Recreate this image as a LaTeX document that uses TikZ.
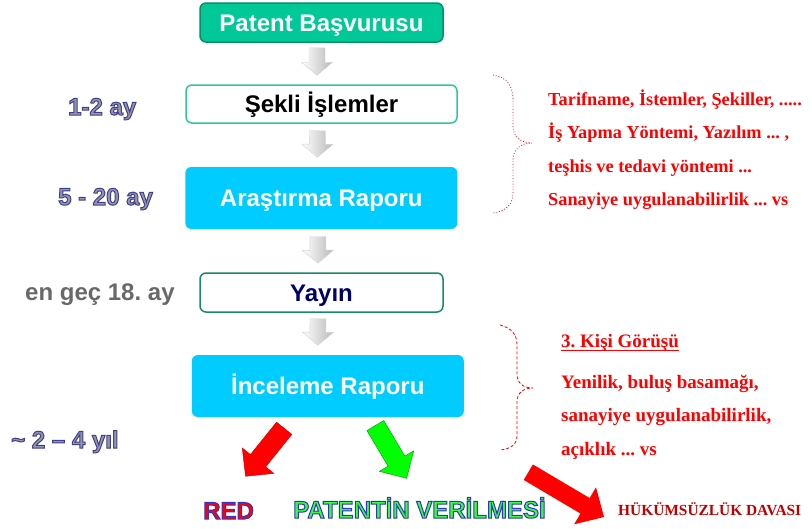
\documentclass[tikz,border=0pt]{standalone}
\usepackage{fontspec}
\setmainfont{Liberation Sans}
\newfontfamily\sansf{Liberation Sans}
\newfontfamily\seriff{Liberation Serif}
\usetikzlibrary{calc}
\frenchspacing
\definecolor{pgreen}{RGB}{0,200,150}
\definecolor{pgreendk}{RGB}{0,145,105}
\definecolor{sgreen}{RGB}{46,200,156}
\definecolor{ygreen}{RGB}{23,138,108}
\definecolor{pcyan}{RGB}{0,204,255}
\definecolor{ynavy}{RGB}{0,0,102}
\definecolor{lgray}{RGB}{105,105,105}
\definecolor{hred}{RGB}{192,0,0}
\definecolor{agreen}{RGB}{0,255,0}
% outlined text: fill rgb, stroke rgb, text
\newcommand\outl[3]{\special{pdf:bcolor [#1] [#2]}\special{pdf:literal direct q 2 Tr 1.0 w}#3\special{pdf:literal direct 0 Tr Q}\special{pdf:ecolor}}
% fat arrow: style, tail, tip, half shaft, half head, head length
\newcommand\fatarrow[6]{%
  \coordinate (fab) at ($(#3)!#6!(#2)$);
  \path[#1] ($(#2)!#4!90:(#3)$) -- ($(fab)!#4!90:(#3)$) -- ($(fab)!#5!90:(#3)$) -- (#3)
    -- ($(fab)!#5!-90:(#3)$) -- ($(fab)!#4!-90:(#3)$) -- ($(#2)!#4!-90:(#3)$) -- cycle;}
\tikzset{
  box/.style={rounded corners=6pt, line width=1.5pt, inner sep=0pt,
    text height=17.2pt, text depth=0pt,
    font=\sansf\bfseries\fontsize{24}{28}\selectfont},
  lbl/.style={anchor=base west, inner sep=0pt, font=\sansf\bfseries\fontsize{24}{28}\selectfont},
  rtxt/.style={anchor=base west, inner sep=0pt, text=red, font=\seriff\bfseries\fontsize{18.3}{22}\selectfont},
  rtxtb/.style={anchor=base west, inner sep=0pt, text=red, font=\seriff\bfseries\fontsize{19}{22}\selectfont},
  grayarr/.style={left color=white, right color=gray!55, draw=gray!35, line width=0.4pt},
  redarr/.style={fill=red, draw=red!80!black, line width=0.4pt},
  greenarr/.style={fill=agreen, draw=green!60!black, line width=0.4pt},
  bigarr/.style={fill=red},
  brace/.style={red, line width=0.8pt}
}
\begin{document}
\begin{tikzpicture}[x=1pt, y=-1pt]
\useasboundingbox (0,0) rectangle (812,528);
\fill[white] (0,0) rectangle (812,528);

% boxes
\node[box, fill=pgreen, draw=pgreendk, text=white, minimum width=243pt, minimum height=39pt] (pb) at (321.5,22.5) {Patent Başvurusu};
\node[box, fill=white, draw=sgreen, text=black, minimum width=271pt, minimum height=38pt] (sk) at (321.5,104) {Şekli İşlemler};
\node[box, fill=pcyan, draw=none, text=white, minimum width=272pt, minimum height=62pt] (ar) at (321.3,198) {Araştırma Raporu};
\node[box, fill=white, draw=ygreen, text=ynavy, minimum width=243pt, minimum height=39pt] (ya) at (321.5,292.5) {Yayın};
\node[box, fill=pcyan, draw=none, text=white, minimum width=272pt, minimum height=62pt] (ir) at (327.8,386) {İnceleme Raporu};

% gray down arrows
\coordinate (g1a) at ($(pb.south)+(-4.5,5)$);
\coordinate (g1b) at ($(sk.north)+(-4.5,-9)$);
\coordinate (g2a) at ($(sk.south)+(-4,7)$);
\coordinate (g2b) at ($(ar.north)+(-4,-9)$);
\coordinate (g3a) at ($(ar.south)+(-3.5,7)$);
\coordinate (g3b) at ($(ya.north)+(-3.5,-9)$);
\coordinate (g4a) at ($(ya.south)+(-3.5,6)$);
\coordinate (g4b) at ($(ir.north)+(-10,-9)$);
\fatarrow{grayarr}{g1a}{g1b}{8pt}{15.5pt}{13pt}
\fatarrow{grayarr}{g2a}{g2b}{8pt}{15.5pt}{13pt}
\fatarrow{grayarr}{g3a}{g3b}{8pt}{15.5pt}{13pt}
\fatarrow{grayarr}{g4a}{g4b}{8pt}{15.5pt}{13pt}

% left labels
\node[lbl] (l1) at (68,115) {\outl{0.58 0.58 0.68}{0.25 0.25 0.55}{1-2 ay}};
\node[lbl] (l2) at (58,205) {\outl{0.58 0.58 0.68}{0.25 0.25 0.55}{5 - 20 ay}};
\node[lbl, text=lgray] (l3) at (25,300) {en geç 18. ay};
\node[lbl] (l4) at (11,448) {\outl{0.58 0.58 0.68}{0.25 0.25 0.55}{\symbol{"7E} 2 – 4 yıl}};

% outcomes
\node[lbl] (red) at (203,519) {\outl{1 0 0}{0.2 0.2 0.8}{RED}};
\node[lbl] (pv) at (293,518) {\outl{0.2 1 0.2}{0.2 0.2 0.8}{PATENTİN VERİLMESİ}};
\node[anchor=base west, inner sep=0pt, text=hred, font=\seriff\bfseries\fontsize{15.4}{18}\selectfont] (hd) at (618,515) {HÜKÜMSÜZLÜK DAVASI};

% colored arrows
\coordinate (ra) at ($(ir.south)+(-43.6,10.5)$);
\coordinate (rb) at ($(red.north)+(17,-26)$);
\fatarrow{redarr}{ra}{rb}{9.8pt}{20.3pt}{20pt}
\coordinate (ga) at ($(ir.south)+(47.5,7.8)$);
\coordinate (gb) at (406.7,478.3);
\fatarrow{greenarr}{ga}{gb}{9.8pt}{20pt}{20pt}
\coordinate (ba) at (528.3,472.2);
\coordinate (bb) at (604,517);
\fatarrow{bigarr}{ba}{bb}{9pt}{21.5pt}{22pt}

% top right text and brace
\node[rtxt] (t1) at (548,105) {Tarifname, İstemler, Şekiller, .....};
\node[rtxt] (t2) at (548,138) {İş Yapma Yöntemi, Yazılım ... ,};
\node[rtxt] (t3) at (548,172) {teşhis ve tedavi yöntemi ...};
\node[rtxt] (t4) at (548,205) {Sanayiye uygulanabilirlik ... vs};
\draw[brace, dotted] (493,75) .. controls (507,77) and (513,86) .. (513,100) -- (513,126)
  .. controls (513,137) and (521,143) .. (532,143)
  .. controls (521,143) and (513,149) .. (513,160) -- (513,192)
  .. controls (513,204) and (507,211) .. (493,213);

% bottom right text and brace
\node[rtxtb] (k3) at (561,347) {3. Kişi Görüşü};
\draw[red, line width=1.6pt] ($(k3.base west)+(0,3.6)$) -- ($(k3.base east)+(0,3.6)$);
\node[rtxtb] (b1) at (561,388.3) {Yenilik, buluş basamağı,};
\node[rtxtb] (b2) at (561,421.7) {sanayiye uygulanabilirlik,};
\node[rtxtb] (b3) at (561,455) {açıklık ... vs};
\draw[brace, dash pattern=on 3pt off 2pt] (500,325) .. controls (512,328) and (517,335) .. (517,345) -- (517,374)
  .. controls (517,383) and (523,388) .. (533,388)
  .. controls (523,388) and (517,393) .. (517,402) -- (517,436)
  .. controls (517,444) and (511,449) .. (500,450);
\end{tikzpicture}
\end{document}
